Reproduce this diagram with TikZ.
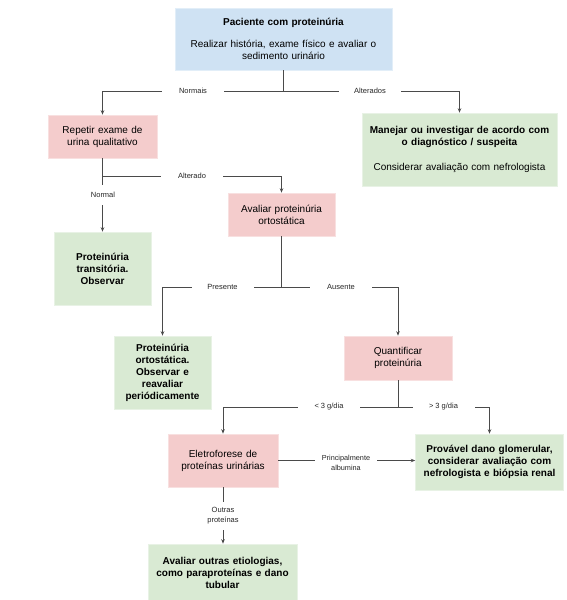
\documentclass[tikz,border=0pt]{standalone}
\usepackage{fontspec}
\setmainfont{Liberation Sans}
\usetikzlibrary{arrows.meta}
\definecolor{bluefill}{HTML}{CFE2F3}
\definecolor{redfill}{HTML}{F4CCCC}
\definecolor{greenfill}{HTML}{D9EAD3}
\definecolor{linecol}{HTML}{4A4A4A}
\begin{document}
\begin{tikzpicture}[x=1pt,y=-1pt,
  box/.style={rectangle, inner sep=0pt, align=center, font=\fontsize{10}{12}\selectfont, text=black},
  bluebox/.style={box, fill=bluefill, draw=bluefill!60!white, line width=0.6pt},
  redbox/.style={box, fill=redfill, draw=redfill!60!white, line width=0.6pt},
  greenbox/.style={box, fill=greenfill, draw=greenfill!60!white, line width=0.6pt, font=\fontsize{10}{12}\selectfont\bfseries},
  lbl/.style={fill=white, minimum width=62pt, minimum height=20pt, inner sep=1pt, font=\fontsize{7.5}{9}\selectfont, text=black!85, align=center},
  conn/.style={draw=linecol, line width=0.8pt},
  arr/.style={conn, -{Stealth[length=4.5pt,width=3.5pt]}}
]
\useasboundingbox (0,0) rectangle (567,600);

% boxes
\node[bluebox, minimum width=217pt, minimum height=62pt, text width=210pt] (top) at (283.5,39)
  {{\bfseries Paciente com proteinúria}\\[10pt]Realizar história, exame físico e avaliar o\\sedimento urinário};
\node[redbox, minimum width=109pt, minimum height=43pt, text width=104pt] (b2) at (102.5,136.5)
  {Repetir exame de\\urina qualitativo};
\node[greenbox, minimum width=195pt, minimum height=73pt, text width=190pt] (b3) at (459.5,149.5)
  {Manejar ou investigar de acordo com\\o diagnóstico / suspeita\\[13pt]{\mdseries Considerar avaliação com nefrologista}};
\node[redbox, minimum width=107pt, minimum height=43pt, text width=102pt] (b4) at (281.5,214.5)
  {Avaliar proteinúria\\ortostática};
\node[greenbox, minimum width=97pt, minimum height=73pt, text width=92pt] (b5) at (102.5,268.5)
  {Proteinúria\\transitória.\\Observar};
\node[greenbox, minimum width=97pt, minimum height=73pt, text width=94pt] (b6) at (162.5,372.5)
  {Proteinúria\\ortostática.\\Observar e\\reavaliar\\periódicamente};
\node[redbox, minimum width=108pt, minimum height=44pt, text width=103pt] (b7) at (398,358)
  {Quantificar\\proteinúria};
\node[redbox, minimum width=110pt, minimum height=53pt, text width=105pt] (b8) at (223,460.5)
  {Eletroforese de\\proteínas urinárias};
\node[greenbox, minimum width=148pt, minimum height=56pt, text width=145pt] (b9) at (489.5,462)
  {Provável dano glomerular,\\considerar avaliação com\\nefrologista e biópsia renal};
\node[greenbox, minimum width=149pt, minimum height=58pt, text width=145pt] (b10) at (222.5,573)
  {Avaliar outras etiologias,\\como paraproteínas e dano\\tubular};

% junctions
\coordinate (j1) at (283.5,91);
\coordinate (j2) at (102.5,176);
\coordinate (j3) at (281.5,287);
\coordinate (j4) at (398,407);

% connectors
\draw[conn] (top.south) -- (j1);
\draw[arr] (j1) -| (b2.north);
\draw[arr] (j1) -| (b3.north);
\draw[conn] (b2.south) -- (j2);
\draw[arr] (j2) -| (b4.north);
\draw[arr] (j2) -- (b5.north);
\draw[conn] (b4.south) -- (j3);
\draw[arr] (j3) -| (b6.north);
\draw[arr] (j3) -| (b7.north);
\draw[conn] (b7.south) -- (j4);
\draw[arr] (j4) -| (b8.north);
\draw[arr] (j4) -| (b9.north);
\draw[arr] (b8.east) -- (b8.east -| b9.west);
\draw[arr] (b8.south) -- (b8.south |- b10.north);

% labels
\node[lbl] (lNormais) at (193,91) {Normais};
\node[lbl] (lAlterados) at (370,91) {Alterados};
\node[lbl] (lAlterado) at (192,176) {Alterado};
\node[lbl] (lNormal) at (103,195) {Normal};
\node[lbl] (lPresente) at (222.5,287) {Presente};
\node[lbl] (lAusente) at (341,287) {Ausente};
\node[lbl] (lMenor) at (329,407) {< 3 g/dia};
\node[lbl] (lMaior) at (443.5,407) {> 3 g/dia};
\node[lbl, minimum height=30pt, font=\fontsize{7.3}{9.5}\selectfont] (lAlb) at (346,463) {Principalmente\\albumina};
\node[lbl, minimum height=28pt, font=\fontsize{7.5}{10}\selectfont] (lOutras) at (223,516) {Outras\\proteínas};
\end{tikzpicture}
\end{document}
